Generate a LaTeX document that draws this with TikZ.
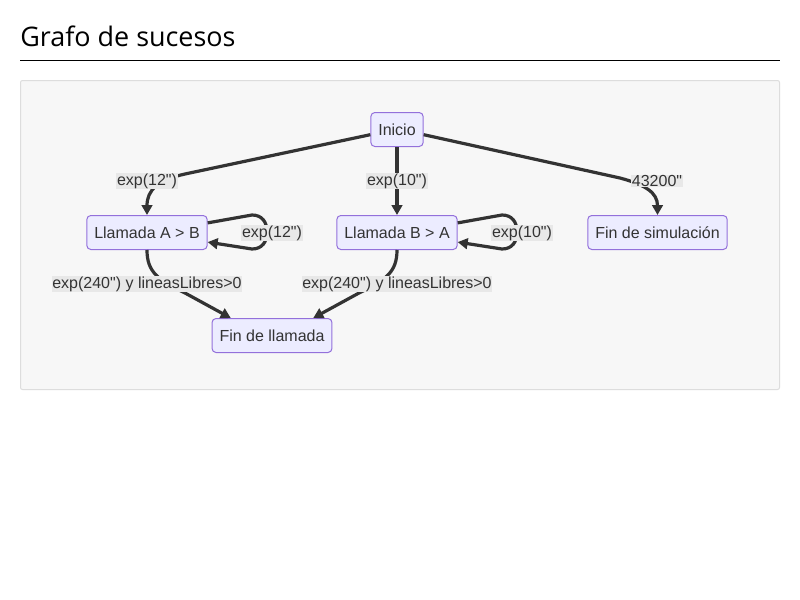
\documentclass[tikz,border=0pt]{standalone}
\usepackage{fontspec}
\setmainfont{Liberation Sans}[Ligatures=TeXOff]
\newfontfamily\titlefont{Open Sans}
\usetikzlibrary{arrows.meta}
\definecolor{nodefill}{HTML}{ECECFF}
\definecolor{nodeborder}{HTML}{9370DB}
\definecolor{edgecol}{HTML}{333333}
\definecolor{labelbg}{HTML}{E8E8E8}
\definecolor{panelfill}{HTML}{F7F7F7}
\definecolor{panelborder}{HTML}{DDDDDD}
\tikzset{
  evnode/.style={draw=nodeborder, fill=nodefill, rounded corners=3pt, line width=0.75pt,
    minimum height=25.5pt, inner xsep=5.6pt, text=edgecol, font=\fontsize{12pt}{14pt}\selectfont},
  edge/.style={draw=edgecol, line width=2.4pt, -{Triangle[length=7.5pt,width=8pt]}},
  elabel/.style={fill=labelbg, inner sep=0.6pt, text=edgecol, font=\fontsize{12pt}{14pt}\selectfont}
}
\begin{document}
\begin{tikzpicture}[x=0.75pt,y=-0.75pt]
\useasboundingbox (0,0) rectangle (800,600);
\fill[white] (0,0) rectangle (800,600);
\node[anchor=base west, inner sep=0, font=\titlefont\fontsize{20.2pt}{24pt}\selectfont] (title) at (20,46) {Grafo de sucesos};
\draw[line width=0.75pt] (20,60.5) coordinate (r1) -- (780,60.5) coordinate (r2);
\draw[panelborder, fill=panelfill, line width=0.75pt, rounded corners=1.5pt] (20.5,80.5) rectangle (779.5,389.5);

\node[evnode] (ini) at (397,129.5) {Inicio};
\node[evnode] (lA) at (147,232.5) {Llamada A > B};
\node[evnode] (lB) at (397,232.5) {Llamada B > A};
\node[evnode] (fs) at (657.5,232.5) {Fin de simulación};
\node[evnode] (fl) at (272,335.5) {Fin de llamada};

% edges
\draw[edge] (ini.191) -- (185,174) .. controls (158,180) and (147,190) .. (lA.north);
\draw[edge] (ini.south) -- (lB.north);
\draw[edge] (ini.349) -- (620,178) .. controls (646,185) and (657.5,193) .. (fs.north);
\draw[edge] (lA.9.5) -- (252,215) .. controls (262,215) and (267,222) .. (267,232) .. controls (267,242) and (262,249) .. (252,249) -- (lA.-9.5);
\draw[edge] (lB.9.5) -- (502,215) .. controls (512,215) and (517,222) .. (517,232) .. controls (517,242) and (512,249) .. (502,249) -- (lB.-9.5);
\draw[edge] (lA.south) .. controls (147,272) and (158,280) .. (185,293) -- (fl.157);
\draw[edge] (lB.south) .. controls (397,272) and (386,280) .. (359,293) -- (fl.23);

% labels
\node[elabel] (l1) at (147,181) {exp(12")};
\node[elabel] (l2) at (397,181) {exp(10")};
\node[elabel] (l3) at (657,181) {43200"};
\node[elabel] (l4) at (272,233) {exp(12")};
\node[elabel] (l5) at (522,233) {exp(10")};
\node[elabel] (l6) at (147,284) {exp(240") y lineasLibres>0};
\node[elabel] (l7) at (397,284) {exp(240") y lineasLibres>0};
\end{tikzpicture}
\end{document}
